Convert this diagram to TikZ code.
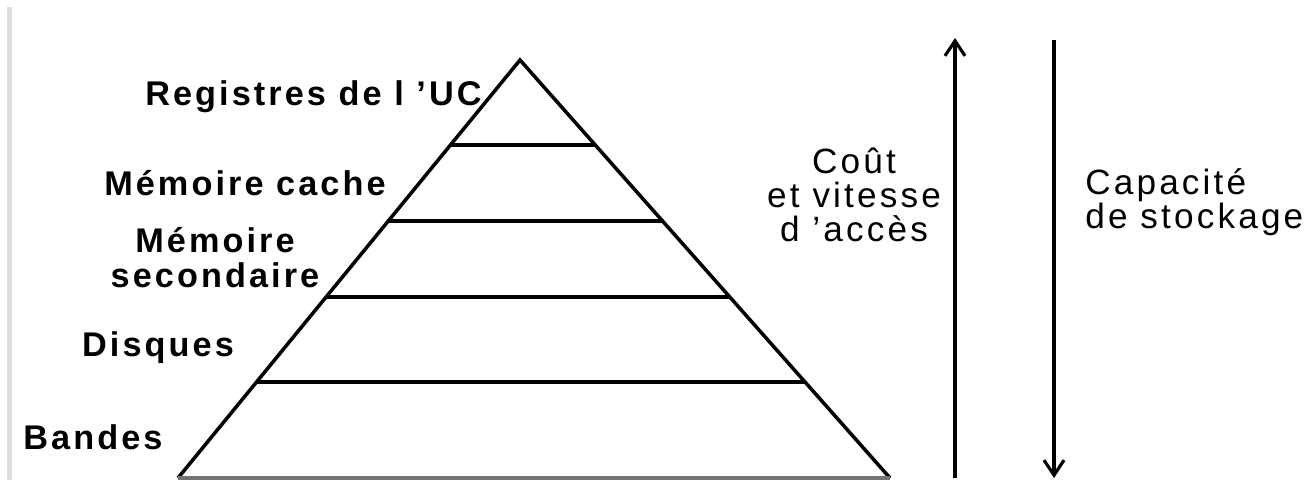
\documentclass[tikz,border=0pt]{standalone}
\usepackage{fontspec}
\setmainfont{Liberation Sans}
\usetikzlibrary{arrows.meta,calc}

\begin{document}
\begin{tikzpicture}[x=0.02cm,y=-0.02cm,>={Straight Barb[length=3mm,width=4mm,line width=1.8pt]},
  lvl/.style={inner sep=0pt,align=center,font=\fontsize{19.5}{20}\selectfont\bfseries\addfontfeatures{LetterSpace=9}},
  side/.style={inner sep=0pt,font=\fontsize{20}{19.5}\selectfont\addfontfeatures{LetterSpace=9}},
  edge/.style={line width=2pt}]
\useasboundingbox (0,0) rectangle (1316,480);
\fill[black!13] (7,7) rectangle (12,480);
% pyramid
\coordinate (top) at (520,60);
\coordinate (bl) at (178,478);
\coordinate (br) at (890,478);
\draw[edge] (bl) -- (top) -- (br);
\draw[edge,black!55] (bl) -- (br);
\foreach \f in {0.203,0.385,0.567,0.770}
  \draw[edge] ($(top)!\f!(bl)$) -- ($(top)!\f!(br)$);
% level labels
\node[lvl,anchor=east] (reg) at (482,97) {Registres de l ’UC};
\node[lvl] (cache) at (245,183) {Mémoire cache};
\node[lvl] (sec) at (215,258) {Mémoire\\secondaire};
\node[lvl] (disk) at (158,348) {Disques};
\node[lvl] (tape) at (93,437) {Bandes};
% cost and capacity
\node[side,align=center] (cost) at (854,195) {Coût\\et vitesse\\d ’accès};
\node[side,align=left,anchor=west] (cap) at (1085,202) {Capacité\\de stockage};
\coordinate (costlo) at (955,478);
\coordinate (costhi) at (955,38);
\coordinate (caphi) at (1054,40);
\coordinate (caplo) at (1054,478);
\draw[->,edge] (costlo) -- (costhi);
\draw[->,edge] (caphi) -- (caplo);
\end{tikzpicture}
\end{document}
